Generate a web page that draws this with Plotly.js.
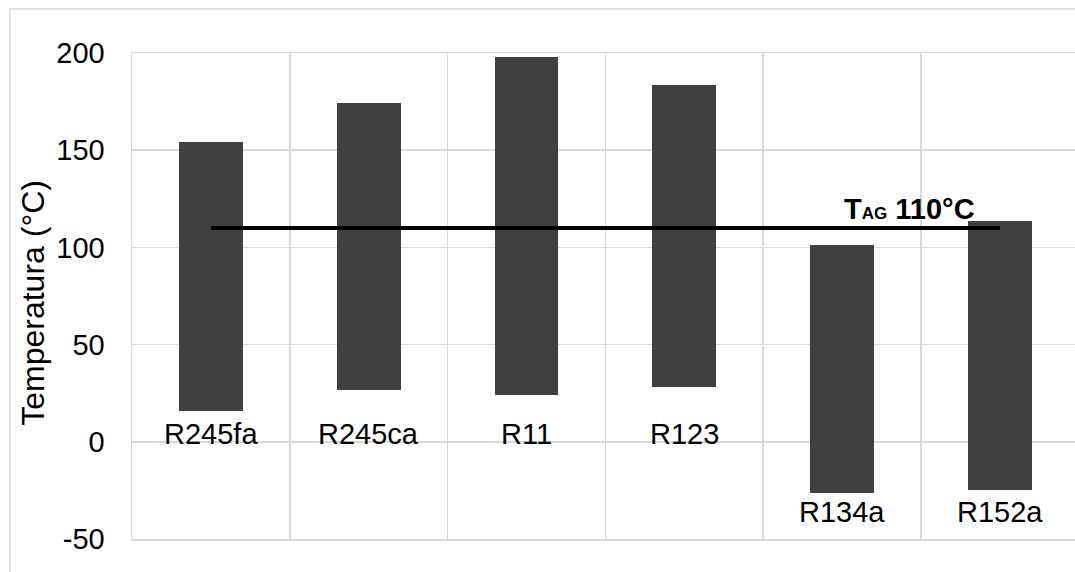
<!DOCTYPE html>
<html>
<head>
<meta charset="utf-8">
<script src="https://cdn.plot.ly/plotly-3.0.1.min.js"></script>
<style>
  html, body { margin: 0; padding: 0; background: #ffffff; }
  #chart { width: 1075px; height: 572px; }
</style>
</head>
<body>
<div id="chart"></div>
<script>
// Working-fluid temperature windows (°C): lower and upper limit per refrigerant
const fluids = ['R245fa', 'R245ca', 'R11', 'R123', 'R134a', 'R152a'];
const lowT = [15.8, 26.4, 24.2, 28.1, -26.2, -24.9];
const highT = [154.2, 174.3, 197.9, 183.5, 101.2, 113.6];

// Heat source (T_AG) reference temperature
const tAG = 110;

const yTicks = [-50, 0, 50, 100, 150, 200];
const yTitle = 'Temperatura (°C)';

const FONT = 'Arial, "Liberation Sans", sans-serif';
const GRID = '#d9d9d9';
const idx = fluids.map((_, i) => i);

const bars = {
  type: 'bar',
  x: idx,
  base: lowT,
  y: highT.map((h, i) => h - lowT[i]),
  width: 0.404,
  marker: { color: '#404040', line: { width: 0 } },
  hoverinfo: 'skip',
  showlegend: false
};

const refLine = {
  type: 'scatter',
  mode: 'lines',
  x: [idx[0], idx[idx.length - 1]],
  y: [tAG, tAG],
  line: { color: '#000000', width: 4 },
  hoverinfo: 'skip',
  showlegend: false
};

// Names sit under each bar; fluids dipping below zero get theirs lower down
const lowest = Math.min(...lowT);
const nameLabels = fluids.map((name, i) => ({
  x: i,
  y: lowT[i] >= 0 ? 0 : lowest,
  xref: 'x', yref: 'y',
  text: name,
  showarrow: false,
  xanchor: 'center',
  yanchor: 'middle',
  yshift: lowT[i] >= 0 ? 8 : -19,
  font: { family: FONT, size: 29, color: '#000000' }
}));

const tagLabel = {
  x: 4.0, y: tAG + 10,
  xref: 'x', yref: 'y',
  text: '<b>T<span style="font-size:17px">AG</span> ' + tAG + '°C</b>',
  showarrow: false,
  xanchor: 'left',
  yanchor: 'middle',
  font: { family: FONT, size: 29, color: '#000000' }
};

// Vertical axis title, set as a rotated label left of the tick labels
const axisTitle = {
  x: -0.105, y: 0.486,
  xref: 'paper', yref: 'paper',
  text: yTitle,
  textangle: -90,
  showarrow: false,
  xanchor: 'center',
  yanchor: 'middle',
  font: { family: FONT, size: 32, color: '#000000' }
};

const layout = {
  width: 1075,
  height: 572,
  margin: { l: 132, r: 0, t: 53, b: 33, pad: 0 },
  paper_bgcolor: '#ffffff',
  plot_bgcolor: '#ffffff',
  font: { family: FONT, color: '#000000' },
  bargap: 0,
  xaxis: {
    type: 'linear',
    range: [-0.5, 5.476],
    tick0: -0.5,
    dtick: 1,
    showticklabels: false,
    ticks: '',
    showgrid: true,
    gridcolor: GRID,
    gridwidth: 1.5,
    zeroline: false,
    showline: true,
    mirror: true,
    linecolor: GRID,
    linewidth: 1.5,
    fixedrange: true
  },
  yaxis: {
    range: [-50, 200],
    tickvals: yTicks,
    ticktext: yTicks.map(String),
    ticks: '',
    ticklabelstandoff: 20,
    tickfont: { family: FONT, size: 29, color: '#000000' },
    showgrid: true,
    gridcolor: GRID,
    gridwidth: 1.5,
    zeroline: false,
    showline: true,
    linecolor: GRID,
    linewidth: 1.5,
    automargin: false,
    fixedrange: true
  },
  shapes: [{
    type: 'rect',
    xref: 'paper', yref: 'paper',
    x0: -0.1294, x1: 1.02, y0: -0.09, y1: 1.0905,
    line: { color: GRID, width: 1.5 },
    fillcolor: 'rgba(0,0,0,0)',
    layer: 'below'
  }],
  annotations: nameLabels.concat([tagLabel, axisTitle])
};

Plotly.newPlot('chart', [bars, refLine], layout, { displayModeBar: false, staticPlot: true });
</script>
</body>
</html>
